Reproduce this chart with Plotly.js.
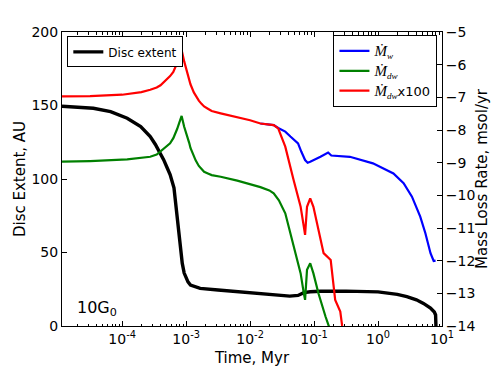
<!DOCTYPE html>
<html>
<head>
<meta charset="utf-8">
<script src="https://cdn.plot.ly/plotly-3.0.1.min.js"></script>
<style>html,body{margin:0;padding:0;background:#fff;}#chart{width:491px;height:368px;}</style>
</head>
<body>
<div id="chart"></div>
<script>
// Disc extent (AU), left axis
const discTime = [1.15e-5,3.55e-5,6.6e-5,1.2e-4,1.95e-4,2.75e-4,3.31e-4,3.98e-4,4.47e-4,5.01e-4,5.62e-4,6.46e-4,6.76e-4,7.24e-4,7.59e-4,8.13e-4,8.71e-4,9.33e-4,9.77e-4,1.07e-3,1.17e-3,1.41e-3,1.66e-3,3.16e-3,6.92e-3,1.45e-2,2.51e-2,4.17e-2,5.62e-2,6.92e-2,8.71e-2,0.126,0.316,1,2.0,2.82,3.98,5.13,6.61,7.59,7.94,8.04];
const discExtent = [149.5,148.1,145.8,141.3,135.6,128.8,123.5,117.5,113,108,103,94,86,74,63,52,42.6,36,33.5,30,27.9,26.5,25.6,24.5,23.3,22.2,21,20.3,20.8,22.7,23.3,23.6,23.7,23.2,21.5,20,17.8,15.4,12.2,9.5,7.5,0];

// log10 mass loss rates (msol/yr), right axis
const mwTime = [1.45e-2,2.0e-2,2.34e-2,2.75e-2,3.55e-2,4.27e-2,5.62e-2,6.31e-2,7.24e-2,7.94e-2,8.71e-2,0.126,0.166,0.186,0.363,0.832,1.74,2.51,3.39,4.57,5.5,6.61,7.41,7.94];
const mwLog = [-7.8,-7.84,-7.85,-7.94,-8.05,-8.2,-8.41,-8.66,-8.92,-9.0,-8.97,-8.82,-8.69,-8.78,-8.82,-9.02,-9.33,-9.63,-10.04,-10.65,-11.16,-11.77,-12.01,-12.0];

const mdwTime = [1.15e-5,3.16e-5,1.2e-4,2.0e-4,2.75e-4,3.47e-4,3.98e-4,5.01e-4,5.62e-4,6.31e-4,6.76e-4,7.24e-4,7.76e-4,8.51e-4,9.33e-4,1.05e-3,1.12e-3,1.17e-3,1.32e-3,1.41e-3,1.58e-3,1.74e-3,1.91e-3,2.19e-3,2.51e-3,3.47e-3,6.31e-3,1.45e-2,2.0e-2,2.34e-2,2.82e-2,3.55e-2,4.79e-2,6.17e-2,6.92e-2,7.24e-2,7.76e-2,8.71e-2,9.77e-2,0.117,0.151,0.170,0.2];
const mdwLog = [-8.97,-8.95,-8.9,-8.86,-8.82,-8.75,-8.66,-8.5,-8.41,-8.25,-8.12,-7.97,-7.8,-7.57,-7.9,-8.2,-8.4,-8.55,-8.82,-8.93,-9.1,-9.2,-9.28,-9.33,-9.38,-9.43,-9.55,-9.75,-9.85,-9.94,-10.15,-10.55,-11.57,-12.39,-13.0,-13.2,-12.28,-12.08,-12.39,-13.0,-13.71,-14.0,-14.4];

const mdw100Time = [1.15e-5,3.16e-5,1.0e-4,2.0e-4,2.75e-4,3.47e-4,3.98e-4,5.01e-4,5.62e-4,6.31e-4,6.76e-4,7.24e-4,7.76e-4,8.51e-4,9.33e-4,1.05e-3,1.12e-3,1.17e-3,1.32e-3,1.41e-3,1.58e-3,1.74e-3,1.91e-3,2.19e-3,2.51e-3,3.47e-3,6.31e-3,1.0e-2,1.45e-2,2.0e-2,2.34e-2,2.75e-2,3.55e-2,4.79e-2,6.17e-2,6.92e-2,7.24e-2,7.76e-2,8.71e-2,9.77e-2,0.112,0.141,0.182,0.214,0.257,0.275,0.316];
const mdw100Log = [-6.97,-6.96,-6.92,-6.84,-6.77,-6.7,-6.63,-6.45,-6.35,-6.22,-6.1,-5.95,-5.78,-5.55,-5.9,-6.26,-6.45,-6.6,-6.85,-6.95,-7.1,-7.2,-7.28,-7.35,-7.42,-7.49,-7.6,-7.7,-7.8,-7.84,-7.85,-7.95,-8.51,-9.53,-10.35,-10.96,-11.21,-10.35,-10.09,-10.35,-10.9,-11.77,-11.98,-13.2,-13.56,-14.0,-14.5];

const xTickVals = [1e-4,1e-3,1e-2,1e-1,1,10];
const xTickText = ['10<sup>-4</sup>','10<sup>-3</sup>','10<sup>-2</sup>','10<sup>-1</sup>','10<sup>0</sup>','10<sup>1</sup>'];

const labelDisc = 'Disc extent';
const mSpan = '<span style="font-family:\'Liberation Serif\';font-size:15px"><i>Ṁ</i></span>';
const labelMw = mSpan + '<span style="font-family:\'Liberation Serif\'"><sub><i>w</i></sub></span>';
const labelMdw = mSpan + '<span style="font-family:\'Liberation Serif\'"><sub><i>dw</i></sub></span>';
const labelMdw100 = mSpan + '<span style="font-family:\'Liberation Serif\'"><sub><i>dw</i></sub></span>x100';

const traces = [
  {x: discTime, y: discExtent, type:'scatter', mode:'lines', name: labelDisc, line:{color:'#000000', width:3.4}, yaxis:'y', legend:'legend'},
  {x: mwTime, y: mwLog, type:'scatter', mode:'lines', name: labelMw, line:{color:'#0000ff', width:2.2}, yaxis:'y2', legend:'legend2'},
  {x: mdwTime, y: mdwLog, type:'scatter', mode:'lines', name: labelMdw, line:{color:'#008000', width:2.2}, yaxis:'y2', legend:'legend2'},
  {x: mdw100Time, y: mdw100Log, type:'scatter', mode:'lines', name: labelMdw100, line:{color:'#ff0000', width:2.2}, yaxis:'y2', legend:'legend2'}
];

const font = {family:'DejaVu Sans', size:14, color:'#000'};
const layout = {
  width:491, height:368,
  margin:{l:62, r:49, t:32, b:42, pad:0},
  paper_bgcolor:'#fff', plot_bgcolor:'#fff',
  font: font,
  showlegend:true,
  xaxis:{
    type:'log', range:[-4.94, 1.0], autorange:false,
    showline:true, linecolor:'#000', linewidth:1, mirror:'ticks',
    ticks:'inside', ticklen:5, tickcolor:'#000',
    tickvals:xTickVals, ticktext:xTickText,
    tickfont:{family:'DejaVu Sans', size:14},
    minor:{ticks:'inside', ticklen:2.5, tickcolor:'#000', dtick:'D1', showgrid:false},
    showgrid:false, zeroline:false,
    title:{text:'Time, Myr', font:{family:'DejaVu Sans', size:15}, standoff:6}
  },
  yaxis:{
    range:[0,200], autorange:false, dtick:50,
    showline:true, linecolor:'#000', linewidth:1,
    ticks:'inside', ticklen:5, tickcolor:'#000',
    tickfont:{family:'DejaVu Sans', size:14},
    showgrid:false, zeroline:false,
    title:{text:'Disc Extent, AU', font:{family:'DejaVu Sans', size:15}, standoff:2}
  },
  yaxis2:{
    overlaying:'y', side:'right',
    range:[-14,-5], autorange:false, dtick:1,
    showline:true, linecolor:'#000', linewidth:1,
    ticks:'inside', ticklen:5, tickcolor:'#000',
    tickfont:{family:'DejaVu Sans', size:14},
    showgrid:false, zeroline:false,
    title:{text:'Mass Loss Rate, msol/yr', font:{family:'DejaVu Sans', size:15}, standoff:8}
  },
  legend:{
    x:0.014, y:0.985, xanchor:'left', yanchor:'top',
    bgcolor:'#fff', bordercolor:'#000', borderwidth:1,
    font:{family:'DejaVu Sans', size:12}, itemwidth:30
  },
  legend2:{
    x:0.988, y:0.99, xanchor:'right', yanchor:'top',
    bgcolor:'#fff', bordercolor:'#000', borderwidth:1,
    font:{family:'DejaVu Sans', size:13}, itemwidth:30
  },
  annotations:[
    {xref:'paper', yref:'paper', x:0.034, y:0.061, xanchor:'left', yanchor:'middle',
     text:'10G<sub>0</sub>', showarrow:false, font:{family:'DejaVu Sans', size:16, color:'#000'}}
  ]
};

Plotly.newPlot('chart', traces, layout, {displayModeBar:false, staticPlot:true});
</script>
</body>
</html>
